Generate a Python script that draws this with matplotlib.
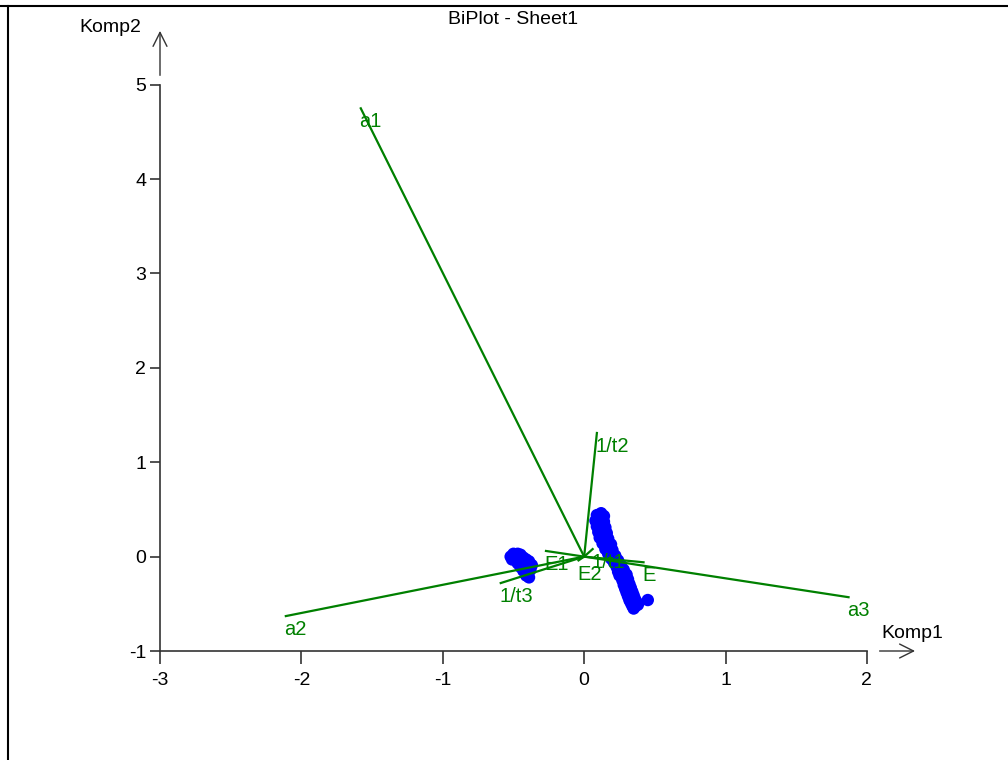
import numpy as np
import matplotlib
matplotlib.use('Agg')
import matplotlib.pyplot as plt
from matplotlib.lines import Line2D

plt.rcParams['font.family'] = ['Liberation Sans', 'DejaVu Sans']
plt.rcParams['axes.unicode_minus'] = False

# loadings (Komp1, Komp2)
load_names = ['a1', 'a2', 'a3', '1/t1', '1/t2', '1/t3', 'E1', 'E2', 'E']
load_x = [-1.58, -2.11, 1.87, 0.06, 0.09, -0.59, -0.27, -0.04, 0.42]
load_y = [4.75, -0.63, -0.43, 0.08, 1.31, -0.28, 0.06, -0.04, -0.06]

# scores
score_x = [-0.50, -0.47, -0.45, -0.52, -0.49, -0.46, -0.43, -0.51, -0.48, -0.44,
           -0.41, -0.47, -0.44, -0.41, -0.39, -0.45, -0.42, -0.39, -0.37, -0.43,
           -0.40, -0.38, -0.41, -0.39,
           0.09, 0.12, 0.14, 0.08, 0.11, 0.14, 0.09, 0.12, 0.15, 0.10, 0.13, 0.16,
           0.11, 0.14, 0.17, 0.13, 0.16, 0.19, 0.15, 0.18, 0.20, 0.17, 0.20, 0.22,
           0.19, 0.22, 0.24, 0.21, 0.24, 0.26, 0.23, 0.26, 0.28, 0.24, 0.27, 0.30,
           0.25, 0.28, 0.31, 0.27, 0.30, 0.32, 0.28, 0.31, 0.33, 0.29, 0.32, 0.34,
           0.30, 0.33, 0.35, 0.31, 0.34, 0.36, 0.32, 0.35, 0.37, 0.33, 0.36, 0.38,
           0.34, 0.36, 0.35, 0.45]
score_y = [0.03, 0.03, 0.02, 0.00, 0.00, -0.01, -0.01, -0.03, -0.04, -0.04,
           -0.03, -0.07, -0.08, -0.07, -0.05, -0.11, -0.12, -0.10, -0.09, -0.15,
           -0.16, -0.14, -0.20, -0.22,
           0.44, 0.46, 0.43, 0.38, 0.40, 0.37, 0.32, 0.34, 0.31, 0.26, 0.28, 0.25,
           0.20, 0.22, 0.19, 0.14, 0.16, 0.13, 0.08, 0.10, 0.07, 0.03, 0.04, 0.01,
           -0.02, -0.01, -0.04, -0.06, -0.07, -0.09, -0.11, -0.12, -0.14, -0.16,
           -0.17, -0.19, -0.20, -0.22, -0.24, -0.25, -0.27, -0.29, -0.30, -0.32,
           -0.33, -0.34, -0.36, -0.37, -0.38, -0.40, -0.41, -0.42, -0.44, -0.45,
           -0.46, -0.47, -0.48, -0.49, -0.50, -0.51, -0.52, -0.53, -0.55, -0.46]

fig = plt.figure(figsize=(10.08, 7.6), dpi=100)
ax = fig.add_axes([160/1008, 1-651/760, 755/1008, 621/760])

ax.scatter(score_x, score_y, s=80, color='#0000ff', edgecolors='none', zorder=2)

green = '#008000'
for name, lx, ly in zip(load_names, load_x, load_y):
    ax.plot([0, lx], [0, ly], color=green, lw=1.6, zorder=3)
    ax.annotate(name, xy=(lx, ly), xytext=(-1, -3), textcoords='offset points',
                ha='left', va='top', color=green, fontsize=14.5, zorder=4)

ax.set_xlim(-3, 2.34)
ax.set_ylim(-1, 5.58)
ax.set_xticks([-3, -2, -1, 0, 1, 2])
ax.set_yticks([-1, 0, 1, 2, 3, 4, 5])
for s in ['top', 'right']:
    ax.spines[s].set_visible(False)
ax.spines['left'].set_bounds(-1, 5)
ax.spines['bottom'].set_bounds(-3, 2)
for s in ['left', 'bottom']:
    ax.spines[s].set_color('#333333')
    ax.spines[s].set_linewidth(1.2)
ax.tick_params(axis='x', length=9, width=1.2, color='#333333', labelsize=14, pad=6)
ax.tick_params(axis='y', length=7, width=1.2, color='#333333', labelsize=14, pad=3)
ax.patch.set_visible(False)

# axis arrows
ax.annotate('', xy=(2.36, -1), xytext=(2.07, -1), annotation_clip=False,
            arrowprops=dict(arrowstyle='->', color='#333333', lw=1.0, mutation_scale=25))
ax.annotate('', xy=(-3, 5.6), xytext=(-3, 5.07), annotation_clip=False,
            arrowprops=dict(arrowstyle='->', color='#333333', lw=1.0, mutation_scale=25))

fig.text(881/1008, 1-633/760, 'Komp1', fontsize=14, ha='left', va='center')
fig.text(79/1008, 1-28/760, 'Komp2', fontsize=14, ha='left', va='center')
fig.text(513/1008, 1-20/760, 'BiPlot - Sheet1', fontsize=14, ha='center', va='center')

# frame lines
fig.add_artist(Line2D([0, 1], [1-6/760, 1-6/760], color='black', lw=1.5))
fig.add_artist(Line2D([8/1008, 8/1008], [0, 1-6/760], color='black', lw=1.5))

plt.savefig('out.png', dpi=100)
